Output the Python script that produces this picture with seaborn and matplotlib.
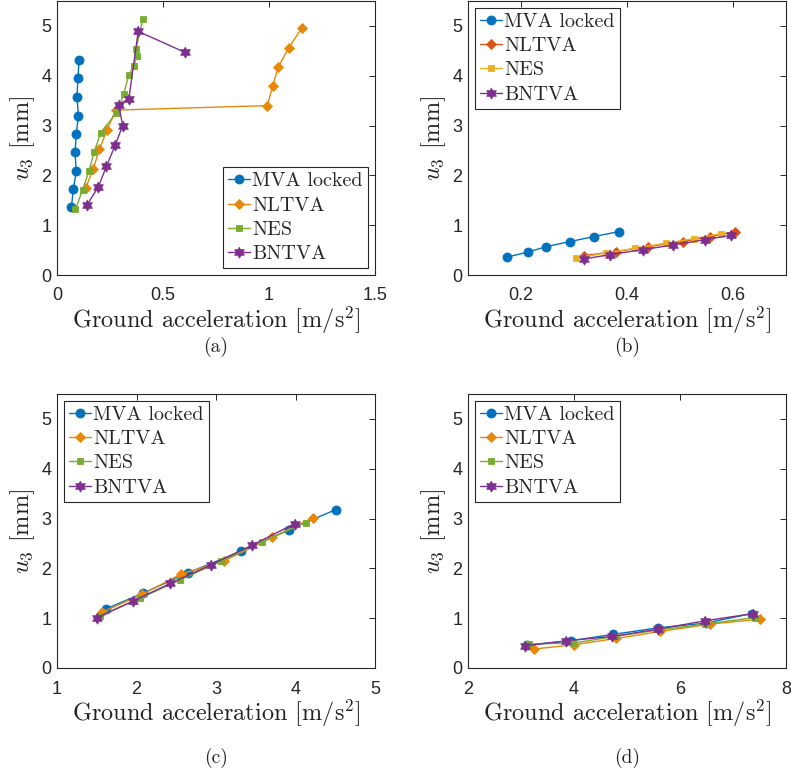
import numpy as np
import pandas as pd
import matplotlib
matplotlib.use('Agg')
import matplotlib.pyplot as plt
import seaborn as sns

series = ['MVA locked', 'NLTVA', 'NES', 'BNTVA']

# ---- panel (a) ----
a_mva_x = [0.068, 0.077, 0.091, 0.085, 0.091, 0.101, 0.094, 0.099, 0.104]
a_mva_y = [1.36, 1.73, 2.08, 2.46, 2.83, 3.20, 3.58, 3.95, 4.32]
a_nltva_x = [0.135, 0.170, 0.200, 0.236, 0.277, 0.992, 1.017, 1.044, 1.093, 1.154]
a_nltva_y = [1.74, 2.12, 2.52, 2.91, 3.31, 3.40, 3.79, 4.18, 4.56, 4.95]
a_nes_x = [0.087, 0.121, 0.150, 0.175, 0.206, 0.282, 0.315, 0.339, 0.364, 0.375, 0.373, 0.405]
a_nes_y = [1.32, 1.71, 2.08, 2.46, 2.86, 3.26, 3.64, 4.02, 4.20, 4.39, 4.54, 5.14]
a_bntva_x = [0.142, 0.195, 0.233, 0.274, 0.310, 0.291, 0.339, 0.383, 0.603]
a_bntva_y = [1.41, 1.77, 2.18, 2.60, 3.00, 3.42, 3.54, 4.89, 4.47]

# ---- panel (b) ----
b_mva_x = [0.174, 0.213, 0.248, 0.292, 0.337, 0.384]
b_mva_y = [0.36, 0.46, 0.57, 0.67, 0.77, 0.87]
b_nltva_x = [0.318, 0.379, 0.440, 0.505, 0.556, 0.604]
b_nltva_y = [0.39, 0.47, 0.57, 0.67, 0.77, 0.87]
b_nes_x = [0.304, 0.360, 0.416, 0.474, 0.526, 0.577]
b_nes_y = [0.34, 0.44, 0.54, 0.64, 0.73, 0.83]
b_bntva_x = [0.318, 0.368, 0.430, 0.486, 0.547, 0.597]
b_bntva_y = [0.32, 0.41, 0.51, 0.60, 0.71, 0.80]

# ---- panel (c) ----
c_mva_x = [1.613, 2.087, 2.645, 3.312, 3.921, 4.508]
c_mva_y = [1.185, 1.505, 1.91, 2.34, 2.78, 3.18]
c_nltva_x = [1.567, 2.074, 2.565, 3.102, 3.707, 4.223]
c_nltva_y = [1.12, 1.48, 1.89, 2.15, 2.62, 3.02]
c_nes_x = [1.546, 2.045, 2.553, 3.060, 3.577, 4.131]
c_nes_y = [1.05, 1.40, 1.77, 2.14, 2.53, 2.92]
c_bntva_x = [1.504, 1.953, 2.427, 2.935, 3.447, 3.992]
c_bntva_y = [1.01, 1.34, 1.70, 2.07, 2.46, 2.90]

# ---- panel (d) ----
d_mva_x = [3.115, 3.94, 4.727, 5.589, 6.484, 7.353]
d_mva_y = [0.46, 0.547, 0.673, 0.807, 0.90, 1.093]
d_nltva_x = [3.24, 4.0, 4.80, 5.62, 6.565, 7.50]
d_nltva_y = [0.38, 0.467, 0.593, 0.733, 0.88, 0.98]
d_nes_x = [3.146, 3.984, 4.77, 5.62, 6.47, 7.415]
d_nes_y = [0.48, 0.50, 0.633, 0.767, 0.88, 1.013]
d_bntva_x = [3.083, 3.858, 4.72, 5.589, 6.47, 7.384]
d_bntva_y = [0.447, 0.547, 0.633, 0.78, 0.947, 1.093]

y_ticks = [0, 1, 2, 3, 4, 5]
a_xticks = [0, 0.5, 1, 1.5]
a_xticklabels = ['0', '0.5', '1', '1.5']
b_xticks = [0.2, 0.4, 0.6]
b_xticklabels = ['0.2', '0.4', '0.6']
c_xticks = [1, 2, 3, 4, 5]
c_xticklabels = ['1', '2', '3', '4', '5']
d_xticks = [2, 4, 6, 8]
d_xticklabels = ['2', '4', '6', '8']

sns.set_style('white')
plt.rcParams['mathtext.fontset'] = 'cm'

# MATLAB-like colours
blue = '#0072BD'
orange = '#E8870A'
redorange = '#D95319'
yellow = '#EDB120'
green = '#77AC30'
purple = '#7E2F8E'

# six-pointed star (MATLAB hexagram)
ang = np.deg2rad(90 + 30 * np.arange(12))
rad = np.where(np.arange(12) % 2 == 0, 1.0, 0.577)
hexagram = list(zip(rad * np.cos(ang), rad * np.sin(ang)))

marker_style = {
    'MVA locked': ('o', 6.5),
    'NLTVA': ('D', 5.5),
    'NES': ('s', 4.8),
    'BNTVA': (hexagram, 8),
}

cm_font = 'cmr10'
tick_font = 'Liberation Sans'


def make_panel(ax, data, colors, xlim, xticks, xticklabels, legend_loc):
    for name, (xs, ys) in zip(series, data):
        df = pd.DataFrame({'x': xs, 'y': ys})
        mk, ms = marker_style[name]
        sns.lineplot(data=df, x='x', y='y', ax=ax, sort=False, estimator=None,
                     color=colors[name], marker=mk, markersize=ms,
                     markeredgecolor=colors[name], markerfacecolor=colors[name],
                     markeredgewidth=0.6, linewidth=1.0, label=name)
    ax.set_xlim(*xlim)
    ax.set_ylim(0, 5.5)
    ax.set_xticks(xticks)
    ax.set_xticklabels(xticklabels)
    ax.set_yticks(y_ticks)
    ax.set_yticklabels([str(t) for t in y_ticks])
    ax.tick_params(direction='in', top=True, right=True, length=4, width=0.7,
                   labelsize=13, colors='#262626')
    ax.tick_params(axis='x', pad=9)
    ax.tick_params(axis='y', pad=4)
    for lab in ax.get_xticklabels() + ax.get_yticklabels():
        lab.set_fontfamily(tick_font)
    for sp in ax.spines.values():
        sp.set_color('#262626')
        sp.set_linewidth(0.8)
    ax.set_xlabel(r'Ground acceleration [m/s$^2$]', fontfamily=cm_font,
                  fontsize=17.5, labelpad=0, color='#222222')
    ax.set_ylabel(r'$u_3$ [mm]', fontfamily=cm_font, fontsize=17.5,
                  labelpad=3, color='#222222')
    leg = ax.legend(loc=legend_loc, prop={'family': cm_font, 'size': 14.5},
                    handlelength=1.1, handletextpad=0.1, borderpad=0.25,
                    labelspacing=0.3, borderaxespad=0.35, fancybox=False,
                    framealpha=1, edgecolor='#262626')
    leg.get_frame().set_linewidth(0.8)


fig = plt.figure(figsize=(7.91, 7.75), dpi=100)
W, H = 791, 775
w = 318 / W
h = 274 / H
ax_a = fig.add_axes([57 / W, 1 - 275 / H, w, h])
ax_b = fig.add_axes([468 / W, 1 - 275 / H, w, h])
ax_c = fig.add_axes([57 / W, 1 - 668 / H, w, h])
ax_d = fig.add_axes([468 / W, 1 - 668 / H, w, h])

cols1 = {'MVA locked': blue, 'NLTVA': orange, 'NES': green, 'BNTVA': purple}
cols2 = {'MVA locked': blue, 'NLTVA': redorange, 'NES': yellow, 'BNTVA': purple}

make_panel(ax_a, [(a_mva_x, a_mva_y), (a_nltva_x, a_nltva_y), (a_nes_x, a_nes_y),
                  (a_bntva_x, a_bntva_y)], cols1, (0, 1.5), a_xticks, a_xticklabels,
           'lower right')
make_panel(ax_b, [(b_mva_x, b_mva_y), (b_nltva_x, b_nltva_y), (b_nes_x, b_nes_y),
                  (b_bntva_x, b_bntva_y)], cols2, (0.1, 0.7), b_xticks, b_xticklabels,
           'upper left')
make_panel(ax_c, [(c_mva_x, c_mva_y), (c_nltva_x, c_nltva_y), (c_nes_x, c_nes_y),
                  (c_bntva_x, c_bntva_y)], cols1, (1, 5), c_xticks, c_xticklabels,
           'upper left')
make_panel(ax_d, [(d_mva_x, d_mva_y), (d_nltva_x, d_nltva_y), (d_nes_x, d_nes_y),
                  (d_bntva_x, d_bntva_y)], cols1, (2, 8), d_xticks, d_xticklabels,
           'upper left')

# sub-captions
for txt, x, y in [('(a)', 216, 347), ('(b)', 627, 347), ('(c)', 216, 758), ('(d)', 627, 758)]:
    fig.text(x / W, 1 - y / H, txt, ha='center', va='center', fontfamily=cm_font,
             fontsize=14, color='#222222')

fig.savefig('out.png', dpi=100, facecolor='white')
